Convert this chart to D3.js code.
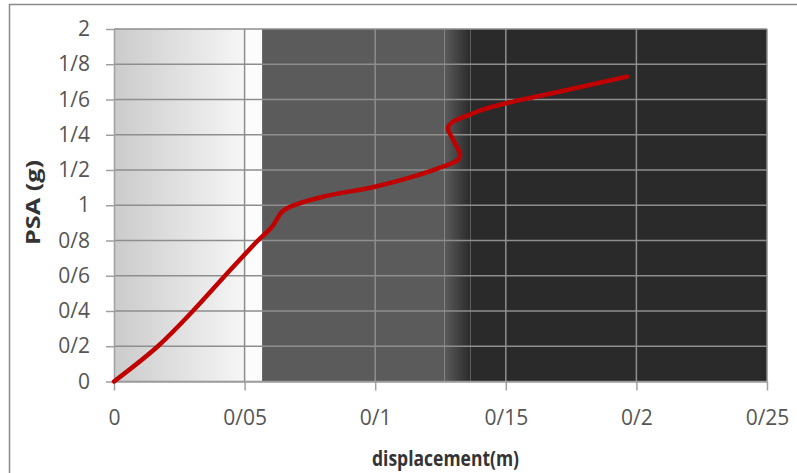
<!DOCTYPE html>
<html lang="en">
<head>
<meta charset="utf-8">
<title>PSA vs displacement</title>
<style>
    body { margin: 0; background: #fff; }
    text { font-family: "Open Sans", sans-serif; }
    .tick text { font-size: 21px; fill: #555; }
    .title { font-weight: bold; fill: #333; }
</style>
<script src="https://cdn.jsdelivr.net/npm/d3@7"></script>
</head>
<body>
<svg width="797" height="473"></svg>
<script>
    // displacement (m) and PSA (g)
    const dispValues = [0, 0.0168, 0.0302, 0.0425, 0.0551, 0.0605, 0.0643, 0.0674, 0.080, 0.0999,
        0.1145, 0.1248, 0.1317, 0.1325, 0.1298, 0.1279, 0.1298, 0.1363, 0.1401, 0.1497, 0.1708, 0.1964];
    const psaValues = [0, 0.2, 0.4, 0.6, 0.8, 0.878, 0.963, 0.991, 1.048, 1.105,
        1.162, 1.213, 1.258, 1.287, 1.372, 1.440, 1.474, 1.514, 1.537, 1.577, 1.645, 1.730];

    const xTicks = [0, 0.05, 0.1, 0.15, 0.2, 0.25];
    const xTickLabels = ["0", "0/05", "0/1", "0/15", "0/2", "0/25"];
    const yTicks = [0, 0.2, 0.4, 0.6, 0.8, 1, 1.2, 1.4, 1.6, 1.8, 2];
    const yTickLabels = ["0", "0/2", "0/4", "0/6", "0/8", "1", "1/2", "1/4", "1/6", "1/8", "2"];

    // background bands (displacement limits)
    const lightBand = [0, 0.05];
    const whiteBand = [0.05, 0.0567];
    const midBand = [0.0567, 0.1265];
    const fadeBand = [0.1265, 0.1365];
    const darkBand = [0.1365, 0.25];

    const svg = d3.select("svg");
    const m = {left: 114, right: 767, top: 29, bottom: 381.5};

    const x = d3.scaleLinear().domain([0, 0.25]).range([m.left, m.right]);
    const y = d3.scaleLinear().domain([0, 2]).range([m.bottom, m.top]);

    // outer frame
    svg.append("rect")
        .attr("x", 9.5).attr("y", 4.5)
        .attr("width", 800).attr("height", 480)
        .attr("fill", "#fff").attr("stroke", "#8a8a8a").attr("stroke-width", 1.5);

    const defs = svg.append("defs");
    const g1 = defs.append("linearGradient").attr("id", "light");
    g1.append("stop").attr("offset", "0%").attr("stop-color", "#cbcbcb");
    g1.append("stop").attr("offset", "100%").attr("stop-color", "#f6f6f6");
    const g2 = defs.append("linearGradient").attr("id", "fade");
    g2.append("stop").attr("offset", "0%").attr("stop-color", "#5b5b5b");
    g2.append("stop").attr("offset", "100%").attr("stop-color", "#2a2a2a");

    function band(b, fill) {
        svg.append("rect")
            .attr("x", x(b[0])).attr("y", m.top)
            .attr("width", x(b[1]) - x(b[0])).attr("height", m.bottom - m.top)
            .attr("fill", fill);
    }
    band(lightBand, "url(#light)");
    band(whiteBand, "#fcfcfc");
    band(midBand, "#5b5b5b");
    band(fadeBand, "url(#fade)");
    band(darkBand, "#2a2a2a");

    // grid
    svg.append("g").selectAll("line").data(yTicks).join("line")
        .attr("x1", m.left).attr("x2", m.right)
        .attr("y1", d => y(d)).attr("y2", d => y(d))
        .attr("stroke", "#8e8e8e").attr("stroke-width", 1.5);
    svg.append("g").selectAll("line").data(xTicks.slice(1)).join("line")
        .attr("x1", d => x(d)).attr("x2", d => x(d))
        .attr("y1", m.top).attr("y2", m.bottom)
        .attr("stroke", "#8e8e8e").attr("stroke-width", 1.5);

    // axes
    const xAxis = svg.append("g")
        .attr("transform", `translate(0,${m.bottom})`)
        .call(d3.axisBottom(x).tickValues(xTicks).tickFormat((d, i) => xTickLabels[i])
            .tickSizeInner(9).tickSizeOuter(0).tickPadding(20));
    const yAxis = svg.append("g")
        .attr("transform", `translate(${m.left},0)`)
        .call(d3.axisLeft(y).tickValues(yTicks).tickFormat((d, i) => yTickLabels[i])
            .tickSizeInner(8).tickSizeOuter(0).tickPadding(16));
    [xAxis, yAxis].forEach(a => {
        a.select(".domain").attr("stroke", "#a0a0a0").attr("stroke-width", 1.5);
        a.selectAll(".tick line").attr("stroke", "#a0a0a0").attr("stroke-width", 1.5);
    });
    xAxis.selectAll(".tick text").attr("dy", "0.71em");

    // curve
    const pts = dispValues.map((d, i) => [d, psaValues[i]]);
    svg.append("path")
        .datum(pts)
        .attr("fill", "none")
        .attr("stroke", "#c00000")
        .attr("stroke-width", 4.5)
        .attr("stroke-linecap", "round")
        .attr("d", d3.line().x(d => x(d[0])).y(d => y(d[1])).curve(d3.curveCatmullRom.alpha(0.5)));

    // titles
    svg.append("text").attr("class", "title")
        .attr("x", 372).attr("y", 466)
        .style("font-size", "21px")
        .attr("textLength", 147).attr("lengthAdjust", "spacingAndGlyphs")
        .text("displacement(m)");
    svg.append("text").attr("class", "title")
        .attr("transform", `translate(40,245) rotate(-90)`)
        .style("font-size", "19px")
        .attr("textLength", 85).attr("lengthAdjust", "spacingAndGlyphs")
        .text("PSA (g)");
</script>
</body>
</html>
